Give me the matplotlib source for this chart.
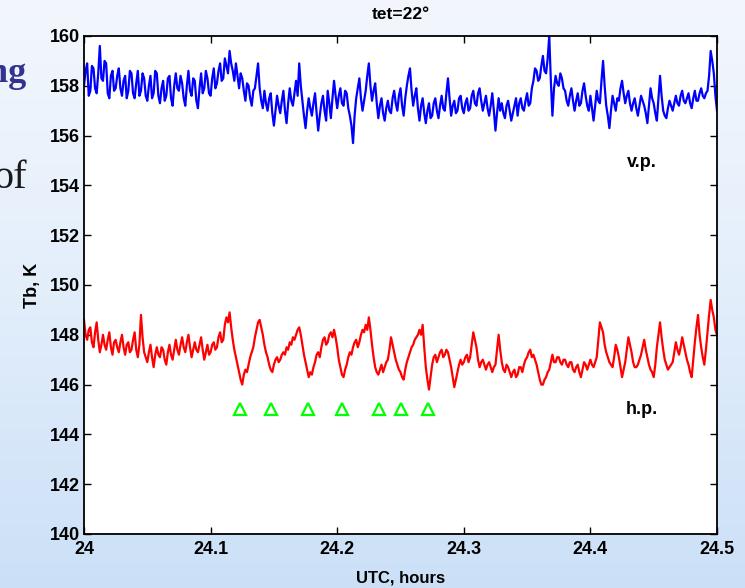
import numpy as np
import matplotlib
matplotlib.use("Agg")
import matplotlib.pyplot as plt
from matplotlib.colors import LinearSegmentedColormap

plt.rcParams['font.family'] = ['Liberation Sans', 'DejaVu Sans']

# ---- data ----
t_start, t_step = 24.0, 0.00125
tb_vp = [
    158.0, 158.6, 158.9, 157.6, 157.8, 158.8, 158.7, 157.9, 157.7, 158.5, 159.6, 158.3, 158.2, 159.0, 158.9, 157.7, 157.5, 158.4, 158.6, 157.8,
    157.9, 158.4, 158.7, 157.9, 157.6, 158.2, 158.4, 157.5, 157.8, 158.6, 158.5, 157.7, 157.5, 158.1, 158.6, 157.6, 157.8, 158.5, 158.3, 157.6,
    157.4, 158.0, 158.4, 157.5, 157.7, 158.6, 158.5, 157.6, 157.3, 157.9, 158.2, 157.4, 157.6, 158.3, 158.4, 157.5, 157.2, 158.0, 158.5, 157.9,
    157.8, 158.4, 158.1, 157.5, 157.2, 158.0, 158.6, 157.8, 157.6, 158.3, 158.2, 157.4, 157.1, 157.9, 158.5, 157.7, 157.9, 158.6, 158.3, 157.7,
    157.6, 158.3, 158.7, 157.9, 158.1, 158.6, 158.9, 158.2, 158.3, 159.1, 158.8, 158.5, 159.4, 158.9, 158.6, 158.2, 158.9, 158.4, 157.9, 158.5,
    158.3, 157.8, 157.4, 158.1, 158.0, 157.5, 157.2, 157.8, 157.9, 158.4, 158.9, 157.9, 157.4, 157.1, 157.8, 157.3, 157.0, 157.5, 157.7, 156.9,
    156.4, 157.0, 157.6, 157.2, 156.9, 157.4, 157.8, 157.0, 156.5, 157.3, 157.9, 157.4, 157.2, 157.7, 158.2, 157.6, 158.9, 158.0, 157.4, 156.8,
    156.3, 157.0, 157.5, 157.1, 156.8, 157.3, 157.7, 156.9, 156.2, 156.8, 157.3, 157.6, 157.0, 156.6, 157.8, 157.3, 156.7, 157.5, 158.2, 157.6,
    157.1, 157.6, 157.9, 157.3, 157.2, 157.8, 157.7, 157.1, 156.8, 156.4, 155.7, 156.8, 157.5, 157.9, 158.3, 157.5, 157.0, 157.4, 157.8, 158.4,
    158.9, 158.0, 157.4, 157.8, 158.1, 157.3, 156.7, 157.2, 157.5, 156.9, 156.6, 157.1, 157.4, 157.0, 156.9, 157.5, 157.8, 157.3, 157.0, 157.6,
    157.9, 157.2, 156.8, 157.5, 158.0, 158.4, 158.7, 157.8, 157.2, 157.6, 157.9, 157.1, 156.6, 157.2, 157.5, 156.9, 156.5, 157.0, 157.3, 156.7,
    156.8, 157.3, 157.5, 157.0, 156.7, 157.2, 157.6, 157.1, 157.0, 157.7, 158.3, 157.5, 156.8, 157.2, 157.4, 156.9, 157.0, 157.5, 157.6, 157.1,
    156.9, 157.3, 157.5, 157.0, 157.1, 157.6, 157.8, 157.3, 157.2, 157.7, 157.9, 157.4, 157.0, 157.3, 157.6, 157.1, 156.8, 157.2, 157.7, 157.0,
    156.2, 156.9, 157.5, 157.0, 157.3, 156.9, 156.7, 157.2, 157.4, 157.0, 156.6, 156.9, 157.2, 157.5, 156.8, 157.3, 157.5, 157.1, 157.0, 157.4,
    157.7, 157.2, 157.3, 157.9, 158.2, 158.7, 158.6, 158.2, 158.3, 158.8, 159.2, 158.6, 158.5, 159.1, 160.0, 158.2, 156.8, 157.9, 158.4, 158.1,
    158.0, 158.5, 158.3, 157.9, 157.8, 157.4, 157.2, 157.6, 157.9, 157.4, 157.0, 157.4, 157.7, 157.2, 157.3, 157.8, 158.1, 157.6, 157.2, 157.0,
    157.6, 157.1, 156.6, 157.2, 157.8, 157.4, 157.3, 158.2, 159.0, 158.0, 157.2, 156.8, 156.3, 157.0, 157.6, 157.3, 157.0, 157.5, 157.4, 157.9,
    158.2, 157.7, 157.3, 157.6, 157.8, 157.3, 157.0, 157.3, 157.5, 157.1, 156.8, 157.2, 157.6, 157.4, 157.2, 156.9, 156.5, 157.2, 157.9, 157.5,
    157.3, 156.9, 156.6, 157.5, 158.4, 157.6, 157.0, 156.8, 156.7, 157.1, 157.4, 157.2, 157.0, 157.3, 157.6, 157.3, 157.2, 157.6, 157.8, 157.4,
    157.3, 157.5, 157.7, 157.3, 157.1, 157.5, 157.8, 157.4, 157.4, 157.7, 157.9, 157.6, 157.5, 157.7, 157.8, 158.4, 159.4, 159.0, 158.5, 157.6,
    157.0,
]
tb_hp = [
    148.6, 148.0, 147.8, 148.2, 148.3, 147.7, 147.5, 148.1, 148.5, 147.8, 147.3, 147.6, 148.0, 147.6, 147.4, 147.8, 148.1, 147.5, 147.2, 147.7,
    147.8, 147.5, 147.3, 147.7, 148.0, 147.5, 147.2, 147.6, 147.7, 147.3, 147.4, 147.8, 148.1, 147.4, 147.1, 147.6, 148.8, 147.9, 147.3, 147.1,
    146.9, 147.3, 147.6, 147.1, 146.7, 147.2, 147.5, 147.2, 147.1, 147.5, 147.4, 147.0, 146.8, 147.3, 147.6, 147.2, 147.0, 147.4, 147.8, 147.4,
    147.2, 147.6, 147.9, 147.5, 147.3, 147.7, 148.0, 147.5, 147.1, 147.4, 147.7, 147.4, 147.3, 147.6, 147.9, 147.4, 147.0, 147.3, 147.6, 147.2,
    147.3, 147.6, 147.7, 147.4, 147.5, 147.9, 148.1, 147.7, 147.8, 148.4, 148.7, 148.5, 148.9, 148.3, 147.8, 147.4, 147.1, 146.8, 146.5, 146.2,
    146.0, 146.4, 146.6, 146.5, 146.8, 147.1, 147.3, 147.5, 147.9, 148.2, 148.5, 148.6, 148.3, 148.0, 147.6, 147.3, 147.1, 146.8, 146.6, 146.5,
    146.8, 147.0, 147.1, 146.9, 147.0, 147.2, 147.3, 147.2, 147.5, 147.4, 147.7, 147.6, 147.9, 147.8, 148.0, 148.2, 148.3, 148.0, 147.6, 147.2,
    146.9, 146.6, 146.3, 146.5, 146.4, 146.7, 146.9, 147.2, 147.3, 147.1, 147.5, 147.8, 147.9, 147.6, 147.7, 148.0, 148.1, 147.9, 148.2, 147.9,
    147.5, 147.0, 146.7, 146.4, 146.3, 146.6, 146.8, 147.1, 147.3, 147.2, 147.5, 147.7, 147.8, 147.5, 147.7, 148.0, 148.2, 148.1, 148.4, 148.2,
    148.7, 148.2, 147.6, 147.1, 146.7, 146.5, 146.4, 146.6, 146.8, 146.5, 146.7, 146.9, 147.0, 147.4, 147.9, 147.6, 147.3, 147.0, 146.8, 146.6,
    146.5, 146.3, 146.2, 146.6, 146.9, 147.1, 147.3, 147.5, 147.6, 147.8, 147.9, 148.0, 148.2, 148.0, 148.4, 147.5, 146.7, 146.2, 145.8, 146.3,
    146.8, 147.1, 147.2, 146.9, 147.1, 147.3, 147.4, 147.1, 147.2, 147.4, 147.3, 147.0, 146.7, 146.3, 145.9, 146.2, 146.5, 146.8, 147.0, 146.8,
    146.9, 147.1, 147.2, 146.9, 147.1, 147.6, 148.1, 147.8, 147.5, 147.0, 146.7, 146.9, 147.0, 146.8, 146.6, 146.8, 146.9, 146.7, 146.5, 146.7,
    146.8, 147.4, 148.0, 147.4, 146.9, 146.6, 146.5, 146.8, 146.7, 146.5, 146.3, 146.5, 146.6, 146.3, 146.4, 146.7, 146.7, 146.5, 146.8, 147.0,
    147.1, 147.3, 147.4, 147.1, 147.2, 147.0, 146.8, 146.5, 146.2, 146.0, 146.0, 146.2, 146.3, 146.5, 146.6, 146.9, 147.2, 146.9, 146.9, 147.1,
    147.1, 146.9, 146.8, 147.0, 147.0, 146.8, 146.7, 146.9, 146.9, 146.6, 146.5, 146.7, 146.8, 146.5, 146.3, 146.6, 146.9, 146.8, 146.6, 146.8,
    147.0, 146.8, 146.7, 146.9, 147.1, 147.8, 148.5, 148.3, 148.1, 147.6, 147.3, 147.1, 146.9, 146.8, 146.7, 147.1, 147.6, 147.4, 147.1, 146.7,
    146.3, 146.6, 146.9, 147.4, 147.9, 147.6, 147.3, 146.9, 146.7, 146.7, 146.8, 147.0, 147.2, 147.5, 147.8, 147.4, 147.1, 146.8, 146.6, 146.5,
    146.3, 146.8, 147.5, 148.0, 148.5, 147.9, 147.4, 147.0, 146.8, 146.6, 146.7, 146.8, 146.9, 147.3, 147.7, 147.4, 147.2, 147.5, 147.9, 147.6,
    147.3, 147.0, 146.8, 146.5, 146.3, 147.0, 147.7, 148.3, 148.8, 148.0, 147.5, 147.1, 146.8, 147.4, 148.1, 148.8, 149.4, 149.0, 148.7, 148.2,
    148.0,
]
marker_t = [24.123, 24.148, 24.177, 24.204, 24.233, 24.250, 24.272]
marker_tb = [145, 145, 145, 145, 145, 145, 145]
xticks = [24, 24.1, 24.2, 24.3, 24.4, 24.5]
xticklabels = ["24", "24.1", "24.2", "24.3", "24.4", "24.5"]
yticks = [140, 142, 144, 146, 148, 150, 152, 154, 156, 158, 160]

t_vp = t_start + t_step * np.arange(len(tb_vp))
t_hp = t_start + t_step * np.arange(len(tb_hp))

# ---- figure ----
fig = plt.figure(figsize=(7.45, 5.88), dpi=100)

# background gradient
bg = fig.add_axes([0, 0, 1, 1], zorder=-10)
cmap = LinearSegmentedColormap.from_list("bg", ["#f3f7fd", "#e3eefb", "#cbe0f7"])
grad = np.linspace(0, 1, 256).reshape(-1, 1)
bg.imshow(grad, aspect="auto", cmap=cmap, extent=[0, 1, 0, 1], origin="upper")
bg.set_axis_off()

# slide text fragments on the left
fig.text(26 / 745, 1 - 82 / 588, "ng", ha="right", va="baseline",
         family="Liberation Serif", weight="bold", fontsize=26, color="#33338f")
fig.text(27 / 745, 1 - 188 / 588, "of", ha="right", va="baseline",
         family="Liberation Serif", fontsize=29, color="#1a1a1a")

ax = fig.add_axes([84 / 745, 1 - 534 / 588, 633 / 745, 498 / 588])
ax.set_facecolor("white")
ax.plot(t_vp, tb_vp, color="#0000ff", lw=1.6)
ax.plot(t_hp, tb_hp, color="#ff0000", lw=1.6)
ax.plot(marker_t, marker_tb, linestyle="none", marker="^", markersize=9,
        markerfacecolor="none", markeredgecolor="#00ff00", markeredgewidth=1.6)

ax.set_xlim(24, 24.5)
ax.set_ylim(140, 160)
ax.set_xticks(xticks)
ax.set_xticklabels(xticklabels)
ax.set_yticks(yticks)
ax.tick_params(direction="in", top=True, right=True, length=5, width=1,
               labelsize=13)
ax.tick_params(axis="x", pad=5)
ax.tick_params(axis="y", pad=3)
for lab in ax.get_xticklabels() + ax.get_yticklabels():
    lab.set_fontweight("bold")
for s in ax.spines.values():
    s.set_linewidth(1.3)

ax.set_title("tet=22°", fontsize=12.5, fontweight="bold", pad=12)
ax.set_xlabel("UTC, hours", fontsize=12, fontweight="bold", labelpad=9)
ax.set_ylabel("Tb, K", fontsize=13, fontweight="bold", labelpad=6)

ax.text(24.441, 154.9, "v.p.", fontsize=13, fontweight="bold", ha="center", va="center")
ax.text(24.441, 145.0, "h.p.", fontsize=13, fontweight="bold", ha="center", va="center")

fig.savefig("out.png", dpi=100)
